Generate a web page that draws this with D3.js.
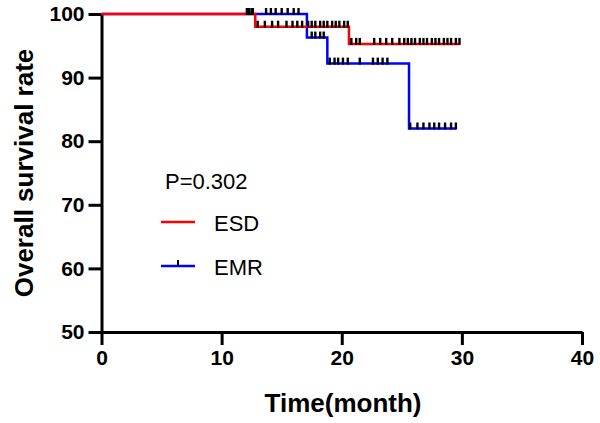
<!DOCTYPE html>
<html>
<head>
<meta charset="utf-8">
<script src="https://cdn.jsdelivr.net/npm/d3@7"></script>
<style>
  body { margin: 0; background: #fff; }
  text { font-family: "Liberation Sans", Arial, sans-serif; }
</style>
</head>
<body>
<div id="chart"></div>
<script>
//Survival steps (time in months, survival in %)
const esdTimes = [0, 12.8, 20.6, 29.8];
const esdSurv = [100, 98.0, 95.3, 95.3];
const emrTimes = [0, 17.1, 18.8, 25.6, 29.5];
const emrSurv = [100, 96.3, 92.2, 82.0, 82.0];

//Censored times
const esdCensor = [12.1, 12.3, 12.5, 13.0, 13.6, 14.2, 14.7, 15.4, 15.9, 16.3, 16.7, 17.2, 17.5, 17.8, 18.2, 18.5, 18.8, 19.2, 19.5, 19.8, 20.2, 20.5,
  20.8, 21.2, 21.5, 22.7, 23.2, 23.7, 24.2, 24.8, 25.2, 25.5, 25.8, 26.1, 26.5, 26.8, 27.1, 27.5, 27.8, 28.1, 28.5, 28.8, 29.1, 29.5, 29.8];
const emrCensor = [12.2, 12.6, 13.7, 14.1, 14.5, 15.0, 15.5, 16.0, 16.4, 17.5, 17.8, 18.2, 18.5,
  19.0, 19.4, 19.7, 20.1, 20.5, 21.5, 22.6, 23.0, 23.4, 23.8, 25.7, 26.3, 26.8, 27.3, 27.7, 28.1, 28.6, 29.1, 29.5];

const xTicks = [0, 10, 20, 30, 40];
const yTicks = [50, 60, 70, 80, 90, 100];

const width = 600;
const height = 423;

const svg = d3.select("#chart")
    .append("svg")
    .attr("width", width)
    .attr("height", height);

const x = d3.scaleLinear().domain([0, 40]).range([101.5, 582]);
const y = d3.scaleLinear().domain([50, 100]).range([332, 14]);

//survival value at time t (step function)
function survAt(times, surv, t) {
    let v = surv[0];
    times.forEach((tt, i) => { if (tt <= t) v = surv[i]; });
    return v;
}

//Axes
const xAxis = svg.append("g")
    .attr("transform", `translate(0,${y(50)})`)
    .call(d3.axisBottom(x).tickValues(xTicks).tickSize(13).tickSizeOuter(0).tickPadding(5));
const yAxis = svg.append("g")
    .attr("transform", `translate(${x(0)},0)`)
    .call(d3.axisLeft(y).tickValues(yTicks).tickSize(13).tickSizeOuter(0).tickPadding(4));

[xAxis, yAxis].forEach(g => {
    g.select(".domain").attr("stroke", "#000").attr("stroke-width", 3);
    g.selectAll(".tick line").attr("stroke", "#000").attr("stroke-width", 3);
    g.selectAll(".tick text")
        .attr("fill", "#000")
        .style("font-size", "21px")
        .style("font-weight", "bold")
        .style("font-family", "'Liberation Sans', Arial, sans-serif");
});

//Curves
const line = d3.line()
    .x(d => x(d[0]))
    .y(d => y(d[1]))
    .curve(d3.curveStepAfter);

const series = [
    {name: "ESD", times: esdTimes, surv: esdSurv, censor: esdCensor, color: "#ff0000"},
    {name: "EMR", times: emrTimes, surv: emrSurv, censor: emrCensor, color: "#0000ff"}
];

series.slice().reverse().forEach(s => {
    svg.append("path")
        .datum(d3.zip(s.times, s.surv))
        .attr("fill", "none")
        .attr("stroke", s.color)
        .attr("stroke-width", 2.5)
        .attr("d", line);
});

//Censor marks
series.forEach(s => {
    svg.append("g")
        .selectAll("line")
        .data(s.censor)
        .enter()
        .append("line")
        .attr("x1", d => x(d))
        .attr("x2", d => x(d))
        .attr("y1", d => y(survAt(s.times, s.surv, d)) + 1)
        .attr("y2", d => y(survAt(s.times, s.surv, d)) - 6)
        .attr("stroke", "#000")
        .attr("stroke-width", 2.4);
});

//Legend
svg.append("text")
    .attr("x", 165)
    .attr("y", 189)
    .style("font-size", "22px")
    .text("P=0.302");

const legend = svg.append("g");
series.forEach((s, i) => {
    const ly = 222 + i * 44;
    legend.append("line")
        .attr("x1", 161).attr("x2", 195)
        .attr("y1", ly).attr("y2", ly)
        .attr("stroke", s.color)
        .attr("stroke-width", 2.5);
    if (s.name === "EMR") {
        legend.append("line")
            .attr("x1", 178).attr("x2", 178)
            .attr("y1", ly).attr("y2", ly - 6)
            .attr("stroke", "#000")
            .attr("stroke-width", 2);
    }
    legend.append("text")
        .attr("x", 214)
        .attr("y", ly + 9)
        .style("font-size", "22px")
        .text(s.name);
});

//Axis titles
svg.append("text")
    .attr("x", 343)
    .attr("y", 412)
    .attr("text-anchor", "middle")
    .style("font-size", "26px")
    .style("font-weight", "bold")
    .text("Time(month)");

svg.append("text")
    .attr("transform", `translate(33,${y(75)}) rotate(-90)`)
    .attr("text-anchor", "middle")
    .style("font-size", "26px")
    .style("font-weight", "bold")
    .text("Overall survival rate");
</script>
</body>
</html>
